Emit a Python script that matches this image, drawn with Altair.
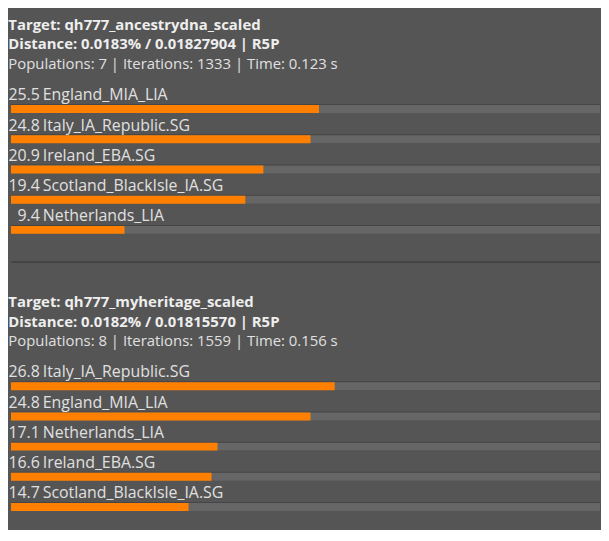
import altair as alt
import pandas as pd

# ---- data ----
titles1 = ["Target: qh777_ancestrydna_scaled", "Distance: 0.0183% / 0.01827904 | R5P"]
subtitle1 = "Populations: 7 | Iterations: 1333 | Time: 0.123 s"
pops1 = ["England_MIA_LIA", "Italy_IA_Republic.SG", "Ireland_EBA.SG", "Scotland_BlackIsle_IA.SG", "Netherlands_LIA"]
vals1 = [25.5, 24.8, 20.9, 19.4, 9.4]

titles2 = ["Target: qh777_myheritage_scaled", "Distance: 0.0182% / 0.01815570 | R5P"]
subtitle2 = "Populations: 8 | Iterations: 1559 | Time: 0.156 s"
pops2 = ["Italy_IA_Republic.SG", "England_MIA_LIA", "Netherlands_LIA", "Ireland_EBA.SG", "Scotland_BlackIsle_IA.SG"]
vals2 = [26.8, 24.8, 17.1, 16.6, 14.7]

# ---- style ----
W = 593
H = 152
FONT = "Open Sans"
BG = "#555555"
TRACK = "#666666"
EDGE = "#454545"
ORANGE = "#ff8000"
TEXT = "#e0e0e0"


def panel(titles, subtitle, pops, vals, separator):
    df = pd.DataFrame({"pop": pops, "val": vals})
    base = alt.Chart(df).encode(
        y=alt.Y("pop:N", sort=None, axis=None,
                scale=alt.Scale(paddingInner=0, paddingOuter=0))
    )
    xs = alt.Scale(domain=[0, 48.77], range=[0, W], nice=False, padding=0)
    edge = base.mark_bar(height=9, yOffset=9.3, color=EDGE).encode(
        x=alt.value(0), x2=alt.value(W))
    track = base.mark_bar(height=8, yOffset=9.8, color=TRACK).encode(
        x=alt.value(0), x2=alt.value(W))
    bar = base.mark_bar(height=8, yOffset=9.8, color=ORANGE).encode(
        x=alt.X("val:Q", scale=xs, axis=None), x2=alt.value(0))
    num = base.mark_text(align="right", baseline="alphabetic", font=FONT,
                         fontSize=16, color=TEXT, dy=1).encode(
        x=alt.value(29), text=alt.Text("val:Q", format=".1f"))
    lab = base.mark_text(align="left", baseline="alphabetic", font=FONT,
                         fontSize=16, color=TEXT, dy=1).encode(
        x=alt.value(32), text="pop:N")
    layers = [edge, track, bar, num, lab]
    if separator:
        sep = alt.Chart(pd.DataFrame({"s": [0]})).mark_rule(
            color="#333333", strokeWidth=1).encode(
            x=alt.value(0), x2=alt.value(W), y=alt.value(H + 27))
        layers.append(sep)
    return alt.layer(*layers).properties(
        width=W, height=H,
        title=alt.TitleParams(
            text=titles, subtitle=subtitle, anchor="start",
            font=FONT, fontSize=15, fontWeight="bold", color="#eeeeee",
            lineHeight=20, subtitleFont=FONT, subtitleFontSize=15,
            subtitleFontWeight="normal", subtitleColor=TEXT,
            subtitleLineHeight=19, subtitlePadding=5, offset=12),
    )


chart = alt.vconcat(
    panel(titles1, subtitle1, pops1, vals1, True),
    panel(titles2, subtitle2, pops2, vals2, False),
    spacing=32,
).properties(
    background=BG,
    padding={"left": 0, "top": 8, "right": 0, "bottom": 16},
).configure_view(stroke=None)

chart.save("out.html", embed_options={"renderer": "svg", "actions": False})
